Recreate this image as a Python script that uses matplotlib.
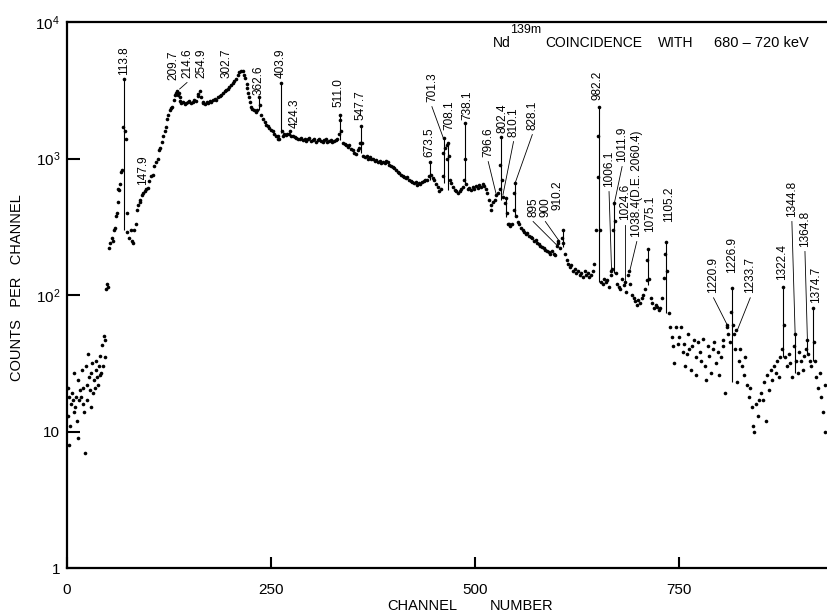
import numpy as np
import matplotlib.pyplot as plt
from matplotlib.ticker import NullLocator

plt.rcParams['font.family'] = ['Liberation Sans', 'DejaVu Sans']
plt.rcParams['mathtext.fontset'] = 'custom'
plt.rcParams['mathtext.rm'] = 'Liberation Sans'

# (channel, counts), region by region
low_end = [(1, 21), (1, 13), (2, 8), (3, 18), (4, 11), (5, 16), (6, 19), (7, 17), (8, 14), (9, 27),
           (10, 15), (11, 18), (12, 12), (13, 24), (14, 9), (15, 17), (16, 20), (17, 18), (18, 28),
           (19, 16), (20, 21), (21, 14), (22, 7), (23, 30), (24, 22), (25, 17), (26, 37), (27, 25),
           (28, 20), (29, 15), (30, 27), (31, 32), (32, 19), (33, 24), (34, 21), (35, 28), (36, 33),
           (37, 25), (38, 22), (39, 30), (40, 26), (41, 36), (42, 27), (43, 43), (44, 30), (45, 50),
           (46, 47), (47, 35), (48, 110), (49, 120), (50, 115)]

rise = [(52, 220), (53, 240), (55, 260), (56, 250), (57, 300), (59, 310), (60, 380), (61, 400),
        (62, 480), (63, 600), (64, 590), (65, 650), (66, 800), (67, 830), (69, 1700), (70, 3820),
        (71, 1600), (72, 1400), (73, 400), (74, 290), (76, 260), (78, 300), (80, 250), (81, 240),
        (82, 300), (84, 330), (86, 420), (87, 460), (89, 480), (90, 500), (92, 540), (93, 560),
        (95, 580), (97, 600), (99, 610), (101, 680), (103, 750), (105, 760), (107, 880), (109, 950),
        (111, 1000), (113, 1150), (114, 1200), (116, 1330), (118, 1450), (120, 1600), (121, 1700),
        (123, 1950), (124, 2100), (126, 2250), (128, 2350), (129, 2400), (131, 2700), (132, 2900),
        (133, 3000), (135, 3100), (136, 2900), (137, 3000), (138, 2800), (139, 2650)]

hump = [(140, 2550), (142, 2600), (144, 2500), (146, 2550), (148, 2600), (150, 2650), (152, 2550),
        (154, 2600), (156, 2700), (158, 2650), (160, 2850), (161, 2950), (163, 3100), (164, 2800),
        (166, 2600), (167, 2550), (169, 2500), (171, 2600), (173, 2550), (175, 2650), (177, 2600),
        (179, 2700), (181, 2750), (183, 2700), (185, 2800), (187, 2850), (189, 2900), (191, 3000),
        (193, 3100), (195, 3150), (197, 3250), (199, 3350), (201, 3450), (203, 3550), (205, 3700),
        (207, 3800), (209, 4100), (211, 4300), (213, 4400), (215, 4350), (217, 4100), (218, 3900),
        (220, 3500), (221, 3300), (222, 3000), (223, 2800), (224, 2600), (226, 2400), (227, 2300),
        (229, 2250), (231, 2200), (233, 2250), (235, 2800), (236, 2450), (238, 2100), (240, 1950),
        (242, 1850), (244, 1750), (246, 1720), (248, 1680), (250, 1620), (252, 1580), (254, 1500),
        (256, 1450), (258, 1400), (259, 1470), (260, 1380), (262, 3570), (263, 1600), (264, 1450),
        (266, 1500), (268, 1480), (270, 1520), (272, 1500), (273, 1600), (275, 1470), (277, 1450),
        (279, 1430), (281, 1420)]

middle = [(283, 1400), (285, 1380), (287, 1420), (289, 1360), (291, 1400), (293, 1350), (295, 1380),
          (297, 1420), (299, 1340), (301, 1370), (303, 1400), (305, 1330), (307, 1360), (309, 1390),
          (311, 1350), (313, 1320), (315, 1360), (317, 1380), (319, 1330), (321, 1350), (323, 1370),
          (325, 1320), (327, 1340), (329, 1360), (331, 1380), (333, 1500), (334, 2080), (335, 1900),
          (336, 1600), (338, 1300), (340, 1280), (342, 1250), (344, 1220), (346, 1250), (348, 1180),
          (350, 1150), (352, 1100), (354, 1080), (356, 1150), (358, 1200), (359, 1300), (360, 1730),
          (361, 1300), (363, 1050), (365, 1030), (367, 1050), (369, 1000), (371, 1020), (373, 990),
          (375, 1000), (377, 960), (379, 970), (381, 940), (383, 960), (385, 920), (387, 950),
          (389, 930), (391, 960), (393, 940), (395, 900), (397, 880), (399, 870), (401, 850),
          (403, 820), (405, 790), (407, 780), (409, 760), (411, 740), (413, 730), (415, 720),
          (417, 730), (419, 700), (421, 680), (423, 670), (425, 660), (427, 670), (429, 640),
          (431, 660), (433, 650), (435, 670), (437, 680), (439, 700), (441, 690), (443, 750),
          (445, 943), (446, 760), (448, 720), (450, 700), (452, 650), (454, 620), (456, 580),
          (458, 600), (460, 750), (461, 1100), (462, 1413), (463, 1200), (465, 1250), (466, 1000),
          (467, 1300), (468, 1050), (469, 700), (471, 660), (473, 620), (475, 590), (477, 580),
          (479, 560), (481, 580), (483, 600), (485, 620), (486, 700), (487, 1820), (488, 1000),
          (489, 650), (491, 600), (493, 610), (495, 590), (497, 620), (499, 600), (501, 630),
          (503, 610), (505, 640), (507, 620), (509, 650), (511, 630), (513, 600), (515, 560),
          (517, 500), (519, 460), (520, 420), (522, 480), (524, 500), (526, 540), (528, 560),
          (530, 600), (531, 900), (532, 1437), (533, 700), (534, 520), (536, 470), (538, 510),
          (539, 400), (540, 330), (541, 330), (543, 320), (545, 330), (547, 420), (548, 560),
          (549, 662), (550, 380), (552, 340), (554, 330), (556, 310), (558, 300), (560, 290),
          (562, 280), (564, 285), (566, 270), (568, 265), (570, 260), (572, 250), (574, 255),
          (576, 240), (578, 235), (580, 230), (582, 225), (584, 220), (586, 215), (588, 210),
          (590, 205), (592, 200), (594, 210), (596, 200), (598, 195)]

upper = [(600, 230), (601, 250), (602, 240), (604, 220), (606, 260), (607, 300), (608, 240),
         (610, 200), (612, 180), (614, 170), (616, 160), (618, 165), (620, 150), (622, 155),
         (624, 145), (626, 150), (628, 140), (630, 145), (632, 135), (634, 150), (636, 140),
         (638, 145), (640, 135), (642, 140), (644, 150), (646, 170), (648, 300), (650, 730),
         (651, 1450), (652, 2400), (653, 300), (654, 125), (656, 120), (658, 130), (660, 125),
         (662, 128), (664, 115), (666, 140), (667, 150), (668, 155), (669, 300), (670, 472),
         (671, 350), (672, 145), (674, 120), (676, 115), (678, 110), (680, 130), (682, 118),
         (683, 125), (685, 105), (687, 140), (689, 150), (690, 120), (692, 100), (694, 95),
         (696, 90), (698, 85), (700, 92), (702, 88), (704, 95), (706, 100), (708, 110), (710, 128),
         (711, 180), (712, 217), (713, 130), (715, 95), (717, 88), (719, 80), (721, 85), (723, 82),
         (725, 78), (727, 80), (729, 95), (731, 133), (733, 200), (734, 245), (735, 150)]

tail = [(737, 74), (739, 58), (741, 49), (742, 42), (744, 32), (746, 58), (748, 44), (750, 49),
        (752, 58), (754, 38), (756, 44), (757, 30), (759, 37), (761, 52), (762, 40), (764, 28),
        (766, 42), (768, 47), (770, 35), (771, 26), (773, 45), (775, 38), (777, 33), (779, 48),
        (781, 30), (783, 24), (785, 42), (787, 36), (789, 27), (791, 40), (793, 45), (795, 32),
        (797, 38), (799, 26), (801, 35), (803, 42), (804, 47), (806, 19), (808, 58), (809, 60),
        (810, 52), (812, 45), (813, 75), (815, 112), (816, 60), (817, 52), (818, 40), (820, 55),
        (821, 23), (823, 33), (825, 40), (827, 30), (829, 26), (831, 35), (833, 22), (835, 18),
        (837, 21), (839, 15), (840, 11), (842, 10), (844, 16), (846, 13), (848, 17), (850, 19),
        (852, 17), (854, 23), (856, 12), (858, 26), (860, 20), (862, 28), (864, 24), (866, 30),
        (868, 27), (870, 33), (872, 25), (874, 35), (876, 40), (877, 115), (878, 60), (880, 35),
        (882, 30), (884, 37), (886, 32), (888, 25), (890, 42), (892, 52), (893, 33), (895, 27),
        (897, 38), (899, 33), (901, 28), (903, 36), (905, 40), (907, 47), (908, 37), (910, 33),
        (912, 30), (914, 80), (915, 45), (916, 33), (918, 25), (920, 21), (922, 27), (924, 18),
        (926, 14), (928, 10), (929, 22)]

# peaks drawn as thin vertical strokes: channel, bottom, top
peak_ch = [70, 235, 262, 334, 360, 445, 462, 467, 487, 532, 538, 549, 607, 652, 670, 712, 734, 815, 877, 892, 907, 914]
peak_lo = [300, 2270, 1540, 1370, 1100, 700, 660, 590, 640, 497, 370, 373, 225, 125, 145, 118, 74, 23, 35, 27, 37, 33]
peak_hi = [3820, 2800, 3570, 2080, 1730, 943, 1413, 1300, 1820, 1437, 520, 662, 300, 2400, 472, 217, 245, 112, 115, 52, 47, 80]

# energy labels: text, channel, count at foot of text, leader end (or None)
peak_labels = [
    ("113.8", 70, 4090, None), ("147.9", 93, 640, None), ("209.7", 130, 3760, None),
    ("214.6", 147, 3890, (138, 3230)), ("254.9", 165, 3890, None), ("302.7", 196, 3890, None),
    ("362.6", 235, 2920, None), ("403.9", 262, 3890, None), ("424.3", 279, 1670, None),
    ("511.0", 333, 2380, None), ("547.7", 360, 1910, None), ("673.5", 444, 1025, None),
    ("701.3", 447, 2590, (461, 1413)), ("708.1", 468, 1617, None), ("738.1", 491, 1910, None),
    ("796.6", 516, 1025, (526, 540)), ("802.4", 533, 1537, None), ("810.1", 547, 1437, (534, 540)),
    ("828.1", 570, 1617, (549, 662)), ("895", 571, 373, (600, 232)), ("900", 586, 373, (602, 253)),
    ("910.2", 601, 420, None), ("982.2", 650, 2680, None), ("1006.1", 664, 618, (667, 158)),
    ("1011.9", 680, 943, (670, 456)), ("1024.6", 683, 354, (683, 118)),
    ("1038.4(D.E. 2060.4)", 698, 266, (689, 147)), ("1075.1", 714, 290, None),
    ("1105.2", 737, 343, None), ("1220.9", 792, 103, (809, 60)), ("1226.9", 815, 145, None),
    ("1233.7", 837, 103, (821, 55)), ("1322.4", 876, 129, None), ("1344.8", 888, 373, (892, 51)),
    ("1364.8", 904, 225, (907, 47)), ("1374.7", 917, 87, None),
]

pts = np.array(low_end + rise + hump + middle + upper + tail, dtype=float)

fig = plt.figure(figsize=(8.27, 6.15), dpi=100)
ax = fig.add_axes([67 / 827, 47 / 615, 1 - 67 / 827, 546 / 615])

ax.vlines(peak_ch, peak_lo, peak_hi, colors='black', linewidth=0.8)
ax.plot(pts[:, 0], pts[:, 1], 'o', color='black', markersize=2.6, markeredgewidth=0)

for txt, ch, foot, lead in peak_labels:
    ax.text(ch, foot, txt, rotation=90, ha='center', va='bottom', fontsize=8.5)
    if lead is not None:
        ax.plot([ch, lead[0]], [foot / 1.08, lead[1]], color='black', linewidth=0.6)

ax.set_yscale('log')
ax.set_xlim(0, 931)
ax.set_ylim(1, 1e4)
ax.set_xticks([0, 250, 500, 750])
ax.set_xticklabels(['0', '250', '500', '750'], fontsize=11)
ax.set_yticks([1, 10, 100, 1000, 10000])
ax.set_yticklabels(['1', '10', r'$\mathregular{10^2}$', r'$\mathregular{10^3}$', r'$\mathregular{10^4}$'],
                   fontsize=11)
ax.yaxis.set_minor_locator(NullLocator())
ax.xaxis.set_minor_locator(NullLocator())
ax.tick_params(axis='x', direction='in', length=8, width=1.5, pad=11)
ax.tick_params(axis='y', direction='in', length=9, width=1.5, pad=5)
ax.spines['right'].set_visible(False)
for s in ['left', 'bottom', 'top']:
    ax.spines[s].set_linewidth(1.6)

ax.text(0.572, 0.962, 'Nd', transform=ax.transAxes, ha='center', va='center', fontsize=10)
ax.text(0.604, 0.986, '139m', transform=ax.transAxes, ha='center', va='center', fontsize=9)
ax.text(0.693, 0.962, 'COINCIDENCE', transform=ax.transAxes, ha='center', va='center', fontsize=10)
ax.text(0.801, 0.962, 'WITH', transform=ax.transAxes, ha='center', va='center', fontsize=10)
ax.text(0.914, 0.962, '680 – 720 keV', transform=ax.transAxes, ha='center', va='center', fontsize=10.5)

fig.text(0.510, 0.014, 'CHANNEL', ha='center', va='center', fontsize=10.5)
fig.text(0.631, 0.014, 'NUMBER', ha='center', va='center', fontsize=10.5)
fig.text(0.021, 0.532, 'COUNTS   PER   CHANNEL', rotation=90, ha='center', va='center', fontsize=10.5)

fig.savefig('out.png', dpi=100)
